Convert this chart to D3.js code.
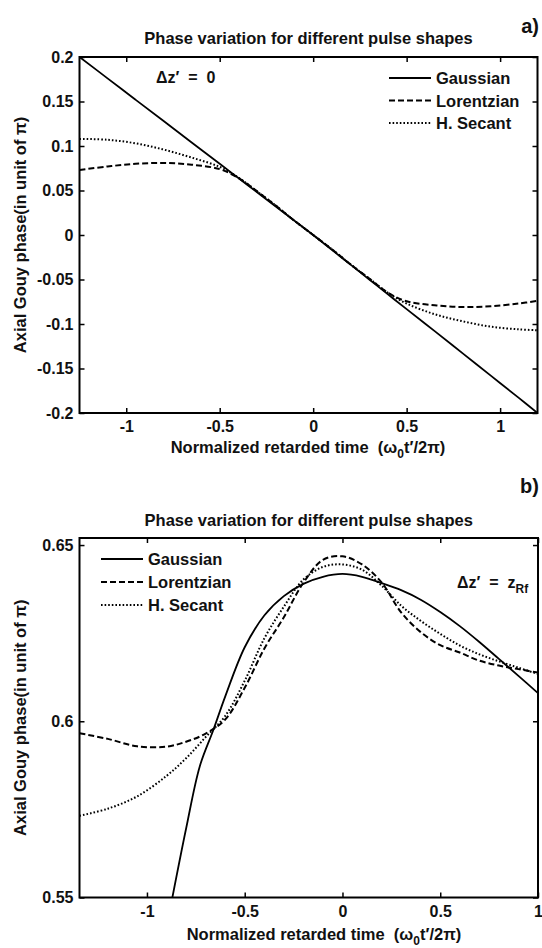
<!DOCTYPE html>
<meta charset="utf-8">
<style>
  body { margin: 0; background: #fff; }
  text { font-family: "Liberation Sans", Arial, sans-serif; font-weight: bold; fill: #111; }
</style>
<body>
<div id="my_dataviz"></div>
<script src="https://cdn.jsdelivr.net/npm/d3@7"></script>
<script>

// ---- data ----
// panel a) : delta z' = 0
var topX = [-1.25, -1.1, -0.95, -0.8, -0.65, -0.5, -0.4, -0.3, -0.2, -0.1, 0,
            0.1, 0.2, 0.3, 0.4, 0.5, 0.65, 0.8, 0.95, 1.1, 1.2];
var topGaussian = [0.2, 0.176, 0.152, 0.128, 0.104, 0.08, 0.064, 0.048, 0.032, 0.016, 0,
                   -0.0167, -0.0333, -0.05, -0.0667, -0.0833, -0.108, -0.133, -0.158, -0.183, -0.2];
var topLorentzian = [0.073, 0.077, 0.080, 0.081, 0.079, 0.074, 0.064, 0.049, 0.033, 0.016, 0,
                     -0.016, -0.033, -0.049, -0.065, -0.0745, -0.079, -0.081, -0.080, -0.077, -0.074];
var topSecant = [0.108, 0.107, 0.103, 0.096, 0.087, 0.0765, 0.0645, 0.049, 0.033, 0.016, 0,
                 -0.016, -0.033, -0.049, -0.065, -0.077, -0.089, -0.097, -0.103, -0.106, -0.107];

// panel b) : delta z' = z_Rf
var botGaussX = [-0.87, -0.8, -0.73, -0.66, -0.6, -0.5, -0.4, -0.3, -0.2, -0.1, 0,
                 0.1, 0.2, 0.3, 0.4, 0.5, 0.6, 0.7, 0.8, 0.9, 1.0];
var botGaussian = [0.55, 0.5695, 0.5872, 0.5976, 0.607, 0.621, 0.630, 0.6355, 0.639, 0.641, 0.6418,
                   0.641, 0.6392, 0.6372, 0.6345, 0.631, 0.627, 0.6225, 0.6177, 0.6129, 0.608];
var botX = [-1.345, -1.2, -1.05, -0.9, -0.8, -0.7, -0.6, -0.5, -0.4, -0.3, -0.2, -0.1, 0,
            0.1, 0.2, 0.3, 0.4, 0.5, 0.6, 0.7, 0.8, 0.9, 1.0];
var botLorentzian = [0.5966, 0.595, 0.5929, 0.5928, 0.5942, 0.5965, 0.6005, 0.6095, 0.6206, 0.6295, 0.6393, 0.6458, 0.6468,
                     0.6445, 0.6394, 0.6309, 0.6253, 0.6216, 0.6195, 0.6172, 0.6158, 0.6148, 0.6138];
var botSecant = [0.5732, 0.5752, 0.5787, 0.5845, 0.5895, 0.5955, 0.6015, 0.6115, 0.6235, 0.6325, 0.6402, 0.6438, 0.6445,
                 0.643, 0.6385, 0.6328, 0.6285, 0.6248, 0.6215, 0.619, 0.617, 0.6152, 0.6134];

var seriesNames = ["Gaussian", "Lorentzian", "H. Secant"];
var xTicks = [-1, -0.5, 0, 0.5, 1];
var topYTicks = [-0.2, -0.15, -0.1, -0.05, 0, 0.05, 0.1, 0.15, 0.2];
var botYTicks = [0.55, 0.6, 0.65];

var titleText = "Phase variation for different pulse shapes";
var yLabelText = "Axial Gouy phase(in unit of \u03c0)";

// line styles per series
var dashes = ["none", "6,3", "1.6,2"];

var svg = d3.select("#my_dataviz")
  .append("svg")
    .attr("width", 542)
    .attr("height", 948);

function fmt(d) { return d === 0 ? "0" : String(+d.toFixed(2)); }

function drawPanel(p) {
  var x = d3.scaleLinear().domain(p.xDomain).range([p.left, p.right]);
  var y = d3.scaleLinear().domain(p.yDomain).range([p.bottom, p.top]);

  var g = svg.append("g");

  g.append("clipPath").attr("id", "clip" + p.id)
    .append("rect")
      .attr("x", p.left).attr("y", p.top)
      .attr("width", p.right - p.left).attr("height", p.bottom - p.top);

  // curves
  var line = d3.line()
    .x(function(d) { return x(d[0]) })
    .y(function(d) { return y(d[1]) })
    .curve(d3.curveCatmullRom.alpha(0.5));

  p.series.forEach(function(s, i) {
    var pts = s.x.map(function(v, k) { return [v, s.y[k]] });
    g.append("path")
      .datum(pts)
      .attr("clip-path", "url(#clip" + p.id + ")")
      .attr("d", line)
      .attr("fill", "none")
      .attr("stroke", "#000")
      .attr("stroke-width", i == 0 ? 1.8 : 2)
      .attr("stroke-dasharray", dashes[i]);
  });

  // axes, ticks pointing inward like matlab
  g.append("g").attr("transform", "translate(0," + p.bottom + ")")
    .call(d3.axisBottom(x).tickValues(xTicks).tickFormat(fmt).tickSizeInner(-5).tickSizeOuter(0).tickPadding(8));
  g.append("g").attr("transform", "translate(0," + p.top + ")")
    .call(d3.axisTop(x).tickValues(xTicks).tickFormat("").tickSizeInner(-5).tickSizeOuter(0));
  g.append("g").attr("transform", "translate(" + p.left + ",0)")
    .call(d3.axisLeft(y).tickValues(p.yTicks).tickFormat(fmt).tickSizeInner(-5).tickSizeOuter(0).tickPadding(6));
  g.append("g").attr("transform", "translate(" + p.right + ",0)")
    .call(d3.axisRight(y).tickValues(p.yTicks).tickFormat("").tickSizeInner(-5).tickSizeOuter(0));

  g.selectAll(".domain").remove();
  g.selectAll(".tick line").attr("stroke", "#000").attr("stroke-width", 1.5);
  g.selectAll(".tick text")
    .attr("font-family", "Liberation Sans, Arial, sans-serif")
    .attr("font-weight", "bold")
    .attr("font-size", 16)
    .attr("fill", "#111");

  g.append("rect")
    .attr("x", p.left).attr("y", p.top)
    .attr("width", p.right - p.left).attr("height", p.bottom - p.top)
    .attr("fill", "none").attr("stroke", "#000").attr("stroke-width", 2);

  // title + letter
  g.append("text").attr("x", (p.left + p.right) / 2).attr("y", p.titleY)
    .attr("text-anchor", "middle").attr("font-size", 16.5).text(titleText);
  g.append("text").attr("x", 539).attr("y", p.letterY)
    .attr("text-anchor", "end").attr("font-size", 20).text(p.letter);

  // axis labels
  var xl = g.append("text").attr("x", p.xLabelX).attr("y", p.xLabelY)
    .attr("text-anchor", "middle").attr("font-size", 16.5);
  xl.append("tspan").text("Normalized retarded time \u00a0(\u03c9");
  xl.append("tspan").attr("font-size", 12).attr("dy", 5).text("0");
  xl.append("tspan").attr("dy", -5).text("t\u2032/2\u03c0)");

  g.append("text")
    .attr("transform", "translate(25.5," + (p.top + p.bottom) / 2 + ") rotate(-90)")
    .attr("text-anchor", "middle").attr("font-size", 16.5).text(yLabelText);

  // legend, no box
  seriesNames.forEach(function(name, i) {
    var ly = p.legendY + i * p.legendStep;
    g.append("line")
      .attr("x1", p.legendX).attr("x2", p.legendX + 42)
      .attr("y1", ly).attr("y2", ly)
      .attr("stroke", "#000").attr("stroke-width", 2)
      .attr("stroke-dasharray", dashes[i]);
    g.append("text").attr("x", p.legendX + 47).attr("y", ly + 6)
      .attr("font-size", 16.5).text(name);
  });

  // delta z annotation
  var an = g.append("text").attr("x", p.noteX).attr("y", p.noteY).attr("font-size", 16);
  an.append("tspan").text("\u0394z\u2032 \u00a0= \u00a0" + p.note);
  if (p.noteSub) {
    an.append("tspan").attr("font-size", 12).attr("dy", 5).text(p.noteSub);
  }
}

drawPanel({
  id: "a", letter: "a)", letterY: 33, titleY: 44,
  left: 79.5, right: 537.5, top: 57, bottom: 413,
  xDomain: [-1.25, 1.2], yDomain: [-0.2, 0.2], yTicks: topYTicks,
  xLabelX: 308, xLabelY: 453,
  series: [
    {x: topX, y: topGaussian},
    {x: topX, y: topLorentzian},
    {x: topX, y: topSecant}
  ],
  legendX: 389, legendY: 78, legendStep: 22.5,
  noteX: 156, noteY: 83, note: "0"
});

drawPanel({
  id: "b", letter: "b)", letterY: 493, titleY: 526,
  left: 79.5, right: 538, top: 538, bottom: 897.5,
  xDomain: [-1.345, 1], yDomain: [0.55, 0.652], yTicks: botYTicks,
  xLabelX: 324, xLabelY: 940,
  series: [
    {x: botGaussX, y: botGaussian},
    {x: botX, y: botLorentzian},
    {x: botX, y: botSecant}
  ],
  legendX: 101, legendY: 559, legendStep: 23,
  noteX: 457, noteY: 588, note: "z", noteSub: "Rf"
});

</script>
</body>
